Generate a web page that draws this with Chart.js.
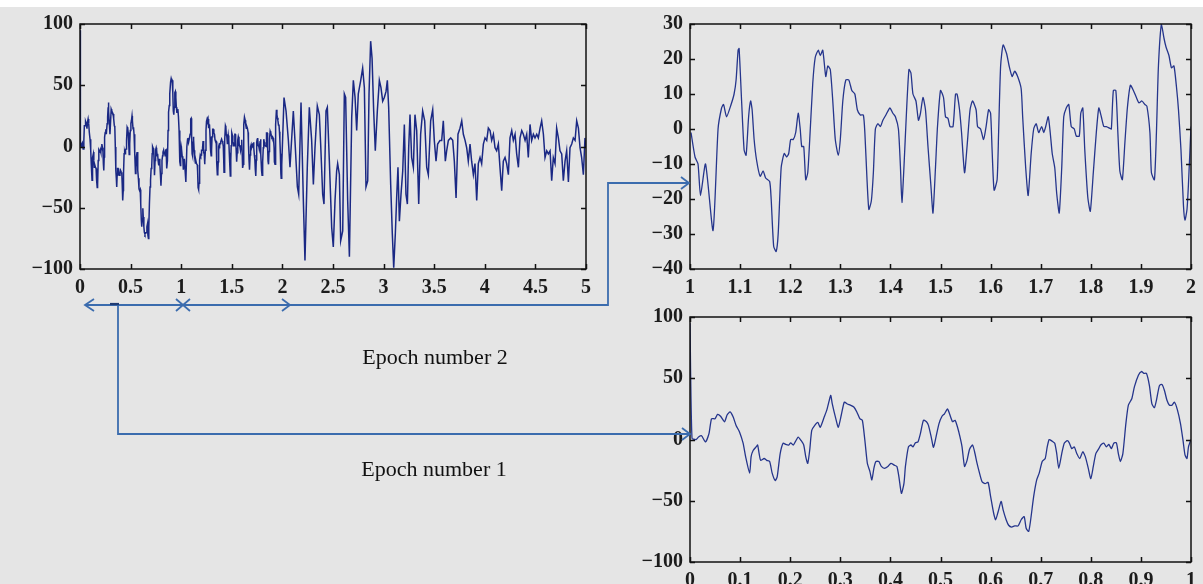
<!DOCTYPE html>
<html>
<head>
<meta charset="utf-8">
<script src="https://cdn.jsdelivr.net/npm/chart.js@4.4.1/dist/chart.umd.min.js"></script>
<style>
  html, body { margin: 0; padding: 0; }
  body { width: 1203px; height: 584px; background: #e5e5e5; position: relative; overflow: hidden; }
  #band { position: absolute; left: 0; top: 0; width: 1203px; height: 7px; background: #ffffff; }
  canvas { position: absolute; }
  #overview { left: 0; top: 0; }
  #epoch2 { left: 600px; top: 0; }
  #epoch1 { left: 600px; top: 290px; }
  svg { position: absolute; left: 0; top: 0; }
</style>
</head>
<body>
<div id="band"></div>
<canvas id="overview" width="600" height="300"></canvas>
<canvas id="epoch2" width="603" height="300"></canvas>
<canvas id="epoch1" width="603" height="294"></canvas>

<svg width="1203" height="584" xmlns="http://www.w3.org/2000/svg">
  <g fill="none" stroke="#3b6cae" stroke-width="1.8" stroke-linejoin="miter">
    <path d="M85 305 H608 V183 H688"/>
    <path d="M94 299 L85 305 L94 311"/>
    <path d="M176 299 L183 305 L176 311"/>
    <path d="M190 299 L183 305 L190 311"/>
    <path d="M282 299 L290 305 L282 311"/>
    <path d="M681 177 L689 183 L681 189"/>
    <path d="M118 305 V434 H690"/>
    <path d="M682 428 L690 434 L682 440"/>
  </g>
  <path d="M110 304 H119" stroke="#1f3b73" stroke-width="2.2"/>
  <g font-family="'Liberation Serif', 'DejaVu Serif', serif" font-size="22" fill="#111111" text-anchor="middle">
    <text x="435" y="364">Epoch number 2</text>
    <text x="434" y="476">Epoch number 1</text>
  </g>
</svg>

<script>
// Epoch 1 (0–1 s): sample times and amplitudes
const epoch1Time = [0, 0.004, 0.012, 0.017, 0.023, 0.031, 0.038, 0.043, 0.050, 0.055, 0.061, 0.069, 0.074, 0.080, 0.086, 0.092, 0.099, 0.106, 0.111, 0.119, 0.122, 0.126, 0.132, 0.135, 0.138, 0.141, 0.148, 0.153, 0.159, 0.164, 0.170, 0.174, 0.180, 0.186, 0.191, 0.197, 0.201, 0.206, 0.210, 0.216, 0.222, 0.227, 0.231, 0.235, 0.239, 0.243, 0.249, 0.255, 0.260, 0.268, 0.273, 0.278, 0.281, 0.284, 0.291, 0.296, 0.302, 0.308, 0.314, 0.320, 0.327, 0.333, 0.339, 0.344, 0.349, 0.354, 0.359, 0.363, 0.367, 0.371, 0.377, 0.382, 0.388, 0.395, 0.401, 0.408, 0.413, 0.417, 0.422, 0.427, 0.430, 0.436, 0.441, 0.445, 0.450, 0.455, 0.460, 0.466, 0.472, 0.476, 0.482, 0.486, 0.491, 0.497, 0.503, 0.508, 0.514, 0.518, 0.524, 0.529, 0.534, 0.539, 0.543, 0.548, 0.553, 0.558, 0.564, 0.568, 0.573, 0.577, 0.583, 0.589, 0.595, 0.600, 0.606, 0.610, 0.615, 0.621, 0.625, 0.631, 0.636, 0.642, 0.648, 0.655, 0.661, 0.667, 0.671, 0.676, 0.680, 0.686, 0.692, 0.697, 0.703, 0.709, 0.713, 0.717, 0.723, 0.728, 0.732, 0.736, 0.742, 0.747, 0.753, 0.757, 0.762, 0.767, 0.772, 0.778, 0.784, 0.789, 0.795, 0.800, 0.805, 0.810, 0.816, 0.820, 0.826, 0.831, 0.836, 0.841, 0.846, 0.851, 0.855, 0.859, 0.864, 0.870, 0.875, 0.882, 0.887, 0.895, 0.901, 0.906, 0.911, 0.917, 0.922, 0.927, 0.931, 0.937, 0.942, 0.947, 0.952, 0.957, 0.962, 0.967, 0.973, 0.979, 0.984, 0.988, 0.992, 0.995, 1.000];
const epoch1Value = [95, 1, 0, 2, 3, -2, 5, 17, 17, 20.5, 19, 14.5, 20, 22.5, 18.5, 11.5, 6, -3, -14, -27.5, -14, -9, -6, -4.5, -11.5, -17, -15.5, -17, -18, -27.5, -33.5, -30.5, -11.5, -3, -4, -4.5, -2.7, -4.5, -2, 2, -1, -4.5, -14, -19.5, -8.5, 7.5, 11.5, 14, 10, 18.5, 24, 32, 36, 29, 17, 10, 20, 30.5, 29, 28, 26.5, 22.5, 17, 15.7, -0.5, -19.5, -26, -33, -23.5, -18, -18, -22, -23.5, -22, -19.5, -21, -22, -30.5, -44, -36, -22, -6, -4.5, -6, -2.7, -2, 5, 15.7, 14.5, 11.5, 1, -6.5, 2, 13, 19, 21, 25, 21, 14.5, 15.7, 10, 2, -6, -22, -17, -8, -4.5, -10, -19.5, -26, -34.5, -36, -35, -46.5, -60, -65.5, -59, -50.5, -57.5, -65.5, -70, -71.5, -70.5, -70.5, -65.5, -63, -72.5, -75, -65.5, -46.5, -33, -27.5, -18, -15.5, -6, 0, -1.4, -3, -11.5, -23.5, -11.5, -3, -1, -2.7, -7.5, -6, -11.5, -15.5, -10, -14, -23.5, -32, -22, -11.5, -7.5, -4.5, -3, -6, -4, -7.5, -3, -2.7, -11.5, -18, -11.5, 13, 28, 33.5, 43, 52.5, 55.5, 54, 54, 44, 29, 26, 32, 44, 45, 40, 32, 28, 28, 30.5, 24, 13, -0.5, -12.5, -15.5, -6, 0];

// Epoch 2 (1–2 s): sample times and amplitudes
const epoch2Time = [1.002, 1.010, 1.016, 1.021, 1.031, 1.046, 1.056, 1.063, 1.067, 1.073, 1.082, 1.088, 1.092, 1.096, 1.098, 1.103, 1.108, 1.112, 1.117, 1.121, 1.124, 1.128, 1.133, 1.140, 1.146, 1.151, 1.159, 1.162, 1.167, 1.172, 1.176, 1.182, 1.188, 1.193, 1.197, 1.201, 1.206, 1.211, 1.216, 1.220, 1.223, 1.227, 1.231, 1.235, 1.239, 1.245, 1.250, 1.256, 1.260, 1.265, 1.271, 1.275, 1.280, 1.285, 1.290, 1.296, 1.300, 1.305, 1.311, 1.317, 1.323, 1.329, 1.334, 1.340, 1.346, 1.349, 1.353, 1.357, 1.362, 1.366, 1.370, 1.375, 1.380, 1.385, 1.391, 1.399, 1.405, 1.410, 1.416, 1.420, 1.423, 1.427, 1.432, 1.437, 1.441, 1.445, 1.451, 1.456, 1.460, 1.465, 1.470, 1.475, 1.481, 1.485, 1.490, 1.494, 1.500, 1.506, 1.510, 1.515, 1.519, 1.525, 1.530, 1.533, 1.538, 1.542, 1.548, 1.553, 1.559, 1.564, 1.571, 1.574, 1.580, 1.586, 1.591, 1.596, 1.600, 1.603, 1.607, 1.613, 1.616, 1.620, 1.625, 1.632, 1.637, 1.643, 1.648, 1.654, 1.661, 1.664, 1.670, 1.675, 1.681, 1.686, 1.691, 1.696, 1.702, 1.706, 1.710, 1.715, 1.719, 1.723, 1.728, 1.732, 1.737, 1.742, 1.746, 1.751, 1.756, 1.761, 1.767, 1.771, 1.777, 1.780, 1.784, 1.788, 1.794, 1.799, 1.805, 1.811, 1.816, 1.821, 1.826, 1.831, 1.838, 1.841, 1.845, 1.850, 1.854, 1.858, 1.863, 1.868, 1.873, 1.879, 1.885, 1.891, 1.896, 1.902, 1.908, 1.912, 1.918, 1.921, 1.927, 1.931, 1.935, 1.941, 1.946, 1.950, 1.956, 1.961, 1.966, 1.971, 1.975, 1.980, 1.985, 1.988, 1.992, 1.995, 2.000];
const epoch2Value = [-1, -8, -10, -19, -10, -29, 0, 6, 7, 3.5, 7, 10, 14, 22.5, 23, 8, -6, -7.5, 3.5, 8, 5.5, -3, -9, -13.5, -12, -14, -15, -20, -33.5, -35, -30, -11, -7, -8, -7, -3, -3, -1, 4.5, 0, -5, -5, -14.5, -12.5, -3, 13, 20.5, 22.5, 21, 22.5, 15, 18, 17, 8, -3, -7.5, -3, 8, 14, 14, 11, 10, 5.5, 4, 4, -1, -13.5, -23, -20.5, -12.5, 0, 1.5, 0.7, 2.5, 4, 6, 4.5, 3.5, 0, -10.7, -21, -11, 4.5, 17, 16, 10, 8, 2.5, 4.5, 9, 5.5, -5, -16.5, -24, -11, 0.7, 11, 9, 3.5, 3, 0.7, 0.7, 10, 10, 5.5, -1, -12.5, -5, 5.5, 8, 5.5, 0.7, 0, -3, 0.7, 5.5, 4.5, -6, -17.5, -14.5, -1, 18, 24, 21.5, 18, 15, 16.5, 15, 11.5, 3.5, -11, -19, -7, 0, 1.5, -1, 0.7, -1, 0.7, 3.5, -1, -7, -11, -18.5, -24, -11, 3.5, 6, 7, 0.7, 0, -2, -2, 4.5, 6, -6, -19.5, -23.5, -12.5, -1, 6, 3.5, 0.7, 0.7, 0.2, 0, 11, 11, -1, -12, -14.5, -4, 6, 12.5, 11, 9, 7.5, 8, 7, 6.5, -1, -12.5, -14.5, -1, 18, 30, 26, 23.5, 21, 17.5, 18, 12, 5.5, -6, -22, -26, -23, -15.5, 0.7];

// Remaining record (2–5 s): sample times and amplitudes
const tailTime = [2.016, 2.036, 2.059, 2.075, 2.092, 2.108, 2.124, 2.148, 2.161, 2.184, 2.207, 2.223, 2.246, 2.266, 2.289, 2.306, 2.322, 2.345, 2.365, 2.378, 2.398, 2.411, 2.431, 2.444, 2.464, 2.487, 2.503, 2.520, 2.536, 2.546, 2.563, 2.576, 2.596, 2.612, 2.625, 2.645, 2.662, 2.685, 2.701, 2.718, 2.734, 2.750, 2.774, 2.793, 2.810, 2.826, 2.843, 2.856, 2.872, 2.886, 2.902, 2.918, 2.938, 2.958, 2.974, 2.991, 3.007, 3.024, 3.037, 3.050, 3.070, 3.086, 3.100, 3.116, 3.129, 3.142, 3.156, 3.172, 3.189, 3.205, 3.221, 3.235, 3.248, 3.261, 3.277, 3.294, 3.310, 3.327, 3.347, 3.366, 3.386, 3.406, 3.426, 3.442, 3.465, 3.485, 3.501, 3.518, 3.534, 3.557, 3.574, 3.590, 3.610, 3.623, 3.640, 3.663, 3.683, 3.699, 3.716, 3.735, 3.755, 3.772, 3.788, 3.805, 3.821, 3.837, 3.854, 3.870, 3.887, 3.903, 3.920, 3.936, 3.953, 3.969, 3.986, 4.002, 4.019, 4.035, 4.052, 4.068, 4.085, 4.101, 4.117, 4.134, 4.150, 4.167, 4.183, 4.200, 4.216, 4.233, 4.249, 4.266, 4.282, 4.299, 4.315, 4.332, 4.348, 4.365, 4.381, 4.398, 4.414, 4.430, 4.447, 4.463, 4.480, 4.496, 4.513, 4.529, 4.546, 4.562, 4.579, 4.595, 4.612, 4.628, 4.645, 4.661, 4.677, 4.694, 4.710, 4.727, 4.743, 4.760, 4.776, 4.793, 4.809, 4.826, 4.842, 4.859, 4.875, 4.892, 4.908, 4.925, 4.941, 4.957, 4.974, 4.990, 5.000];
const tailValue = [40, 29, 5, -17, 7, 29, 5, -33, -39, 36, -44, -93, -17, 32, 5, -31, -1, 33, 26, 2, -39, -47, 29, 32, -12, -66, -82, -44, -20, -14, -23, -77, -69, 43, 40, -44, -90, 24, 54, 40, 13, 43, 54, 64, 48, -33, -28, 43, 86, 72, 29, -3.5, 29, 54, 48, 37, 40, 45, 54, 32, -31, -71, -99, -71, -42, -17, -61, -39, -20, 18, -39, -47, -1, 26, -9, -17, 26, 13, -47, 10, 29, 21, -17, -23, 21, 30, 5, -12, 2, 5, 5, 21, -12, -3.5, 5, 7, 5, -12, -42, 10, 15, 21, 10, 5, -1, -12, 2, -12, -23, -14, -44, -14, -9, -14, 2, 7, 5, 15, 13, 5, 10, -1, -3.5, 2, -17, -36, -12, -9, -14, -23, 7, 13, 5, 10, -6, -17, 7, 13, 10, 5, 10, -9, 18, 5, 10, 7, 10, 7, 15, 21, 10, -9, -3.5, -6, -3.5, -28, -9, -14, 15, 7, -3.5, -6, -28, -12, -3.5, -29, -1, 2, 7, 5, 21, 15, -1, -9, -23, 7, -1];

// Axis tick values
const overviewXTicks = [0, 0.5, 1, 1.5, 2, 2.5, 3, 3.5, 4, 4.5, 5];
const overviewYTicks = [-100, -50, 0, 50, 100];
const epoch2XTicks = [1, 1.1, 1.2, 1.3, 1.4, 1.5, 1.6, 1.7, 1.8, 1.9, 2];
const epoch2YTicks = [-40, -30, -20, -10, 0, 10, 20, 30];
const epoch1XTicks = [0, 0.1, 0.2, 0.3, 0.4, 0.5, 0.6, 0.7, 0.8, 0.9, 1];
const epoch1YTicks = [-100, -50, 0, 50, 100];

function pairs(ts, vs) { return ts.map((t, i) => ({ x: t, y: vs[i] })); }

const overviewPoints = pairs(epoch1Time, epoch1Value)
  .concat(pairs(epoch2Time, epoch2Value))
  .concat(pairs(tailTime, tailValue));

const FONT = { family: "'Liberation Serif', 'DejaVu Serif', serif", size: 20, weight: 'bold' };
const fmt = v => String(v).replace('-', '\u2212');

// Box around the plot area with inward ticks on all four sides
const framePlugin = {
  id: 'frame',
  afterDatasetsDraw(chart) {
    const { ctx, chartArea: a, scales: { x, y } } = chart;
    const L = 5;
    ctx.save();
    ctx.strokeStyle = '#111111';
    ctx.lineWidth = 1.5;
    ctx.strokeRect(a.left, a.top, a.right - a.left, a.bottom - a.top);
    ctx.beginPath();
    x.ticks.forEach(t => {
      const p = Math.round(x.getPixelForValue(t.value)) + 0.5;
      ctx.moveTo(p, a.bottom); ctx.lineTo(p, a.bottom - L);
      ctx.moveTo(p, a.top); ctx.lineTo(p, a.top + L);
    });
    y.ticks.forEach(t => {
      const p = Math.round(y.getPixelForValue(t.value)) + 0.5;
      ctx.moveTo(a.left, p); ctx.lineTo(a.left + L, p);
      ctx.moveTo(a.right, p); ctx.lineTo(a.right - L, p);
    });
    ctx.stroke();
    ctx.restore();
  }
};

function makeChart(id, cfg) {
  return new Chart(document.getElementById(id), {
    type: 'line',
    data: {
      datasets: [{
        data: cfg.points,
        borderColor: cfg.color,
        borderWidth: cfg.width,
        pointRadius: 0,
        tension: cfg.tension,
        fill: false
      }]
    },
    options: {
      responsive: false,
      animation: false,
      parsing: false,
      layout: { padding: { top: cfg.top, right: cfg.right, left: 0, bottom: 0 } },
      plugins: { legend: { display: false }, tooltip: { enabled: false } },
      scales: {
        x: {
          type: 'linear',
          min: cfg.xMin, max: cfg.xMax,
          afterBuildTicks: s => { s.ticks = cfg.xTicks.map(v => ({ value: v })); },
          afterFit: s => { s.height = cfg.xHeight; },
          grid: { display: false, drawTicks: false },
          border: { display: false },
          ticks: { callback: v => fmt(v), color: '#1c1c1c', font: FONT, padding: 7, maxRotation: 0, autoSkip: false }
        },
        y: {
          type: 'linear',
          min: cfg.yMin, max: cfg.yMax,
          afterBuildTicks: s => { s.ticks = cfg.yTicks.map(v => ({ value: v })); },
          afterFit: s => { s.width = cfg.yWidth; },
          grid: { display: false, drawTicks: false },
          border: { display: false },
          ticks: { callback: v => fmt(v), color: '#1c1c1c', font: FONT, padding: 7, autoSkip: false }
        }
      }
    },
    plugins: [framePlugin]
  });
}

makeChart('overview', {
  points: overviewPoints, color: '#1a2884', width: 1.5, tension: 0,
  xMin: 0, xMax: 5, xTicks: overviewXTicks,
  yMin: -100, yMax: 100, yTicks: overviewYTicks,
  top: 24, right: 14, xHeight: 31, yWidth: 80
});

makeChart('epoch2', {
  points: pairs(epoch2Time, epoch2Value), color: '#25358c', width: 1.3, tension: 0.2,
  xMin: 1, xMax: 2, xTicks: epoch2XTicks,
  yMin: -40, yMax: 30, yTicks: epoch2YTicks,
  top: 24, right: 6, xHeight: 31, yWidth: 90
});

makeChart('epoch1', {
  points: pairs(epoch1Time, epoch1Value), color: '#25358c', width: 1.3, tension: 0.2,
  xMin: 0, xMax: 1, xTicks: epoch1XTicks,
  yMin: -100, yMax: 100, yTicks: epoch1YTicks,
  top: 27, right: 7, xHeight: 22, yWidth: 90
});
</script>
</body>
</html>
